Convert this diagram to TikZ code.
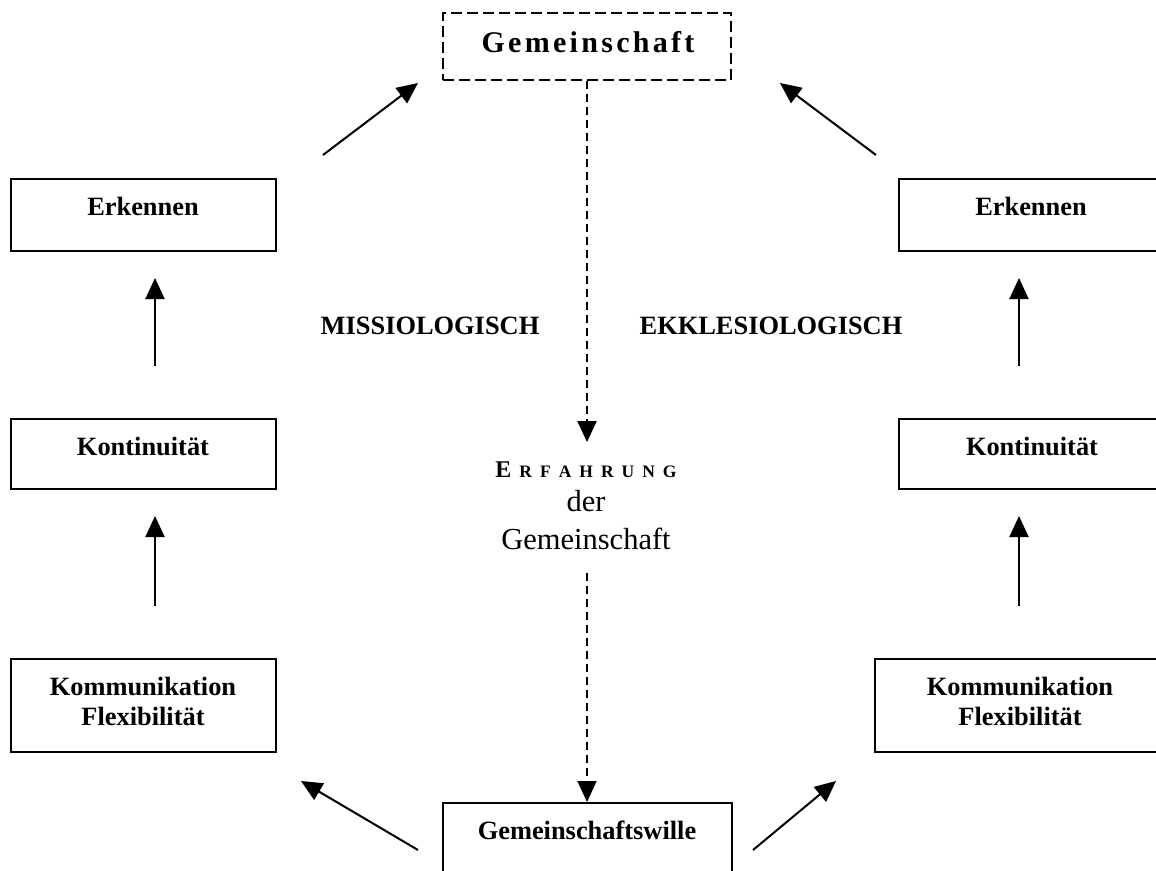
\documentclass[tikz,border=0pt]{standalone}
\usepackage{fontspec}
\setmainfont{Liberation Serif}
\usepackage{graphicx}
\usetikzlibrary{arrows.meta}
\newfontfamily\spacedfont[LetterSpace=11]{Liberation Serif}
\begin{document}
\begin{tikzpicture}[x=1pt,y=-1pt,
  box/.style={draw, line width=2pt, inner sep=0pt},
  lbl/.style={font=\fontsize{26.4}{30}\selectfont\bfseries, anchor=base, inner sep=0pt, align=center},
  arr/.style={line width=2pt, -{Triangle[length=21pt,width=19pt]}},
  darr/.style={line width=2pt, dash pattern=on 8pt off 5pt, -{Triangle[length=21pt,width=19pt]}},
]
\useasboundingbox (0,0) rectangle (1156,870);
\clip (0,0) rectangle (1156,870);

% top
\node[box, dash pattern=on 11pt off 5pt, minimum width=288pt, minimum height=67pt] (top) at (587,46.5) {};
\node[anchor=base, inner sep=0pt, font=\spacedfont\bfseries\fontsize{30}{30}\selectfont] (topt) at (588,52) {Gemeinschaft};

% left column
\node[box, minimum width=265pt, minimum height=72pt] (lE) at (143.5,215) {};
\node[lbl] (lEt) at (143,215) {Erkennen};
\node[box, minimum width=265pt, minimum height=70pt] (lK) at (143.5,454) {};
\node[lbl] (lKt) at (143,455) {Kontinuität};
\node[box, minimum width=265pt, minimum height=93pt] (lC) at (143.5,705.5) {};
\node[lbl] (lCt) at (143,725) {Kommunikation\\Flexibilität};

% right column
\node[box, minimum width=264pt, minimum height=72pt] (rE) at (1031,215) {};
\node[lbl] (rEt) at (1031,215) {Erkennen};
\node[box, minimum width=264pt, minimum height=70pt] (rK) at (1031,454) {};
\node[lbl] (rKt) at (1032,455) {Kontinuität};
\node[box, minimum width=290pt, minimum height=93pt] (rC) at (1020,705.5) {};
\node[lbl] (rCt) at (1020,725) {Kommunikation\\Flexibilität};

% bottom
\node[box, minimum width=289pt, minimum height=100pt] (gw) at (587.5,853) {};
\node[lbl] (gwt) at (587,839) {Gemeinschaftswille};

% side labels
\node[lbl] (miss) at (430,334) {MISSIOLOGISCH};
\node[lbl] (ekk) at (771,334) {EKKLESIOLOGISCH};

% centre text
\node[anchor=base, inner sep=0pt, font=\bfseries] (erf) at (586,477)
  {\fontsize{24}{24}\selectfont E\hspace{8pt}\fontsize{17.5}{17.5}\selectfont R\hspace{8pt}F\hspace{8pt}A\hspace{8pt}H\hspace{8pt}R\hspace{8pt}U\hspace{8pt}N\hspace{8pt}G};
\node[anchor=base, inner sep=0pt, font=\fontsize{30.5}{38}\selectfont] (der) at (586,511) {der};
\node[anchor=base, inner sep=0pt, font=\fontsize{30.5}{38}\selectfont] (gem) at (586,549) {Gemeinschaft};

% dashed connectors
\coordinate (colM) at (587,0);
\draw[darr, shorten >=19pt] (top.south -| colM) -- (erf.north -| colM);
\draw[darr, shorten <=23pt] (gem.south -| colM) -- (gw.north -| colM);

% vertical arrows
\coordinate (colL) at (155,0);
\coordinate (colR) at (1019,0);
\draw[arr, shorten <=52pt, shorten >=26pt] (lK.north -| colL) -- (lE.south -| colL);
\draw[arr, shorten <=52pt, shorten >=26pt] (lC.north -| colL) -- (lK.south -| colL);
\draw[arr, shorten <=52pt, shorten >=26pt] (rK.north -| colR) -- (rE.south -| colR);
\draw[arr, shorten <=52pt, shorten >=26pt] (rC.north -| colR) -- (rK.south -| colR);

% diagonal arrows
\coordinate (d1s) at (323,155); \coordinate (d1e) at (418,83);
\coordinate (d2s) at (876,155); \coordinate (d2e) at (780,83);
\coordinate (d3s) at (418,850); \coordinate (d3e) at (301,781);
\coordinate (d4s) at (753,850); \coordinate (d4e) at (836,781);
\draw[arr] (d1s) -- (d1e);
\draw[arr] (d2s) -- (d2e);
\draw[arr] (d3s) -- (d3e);
\draw[arr] (d4s) -- (d4e);
\end{tikzpicture}
\end{document}
